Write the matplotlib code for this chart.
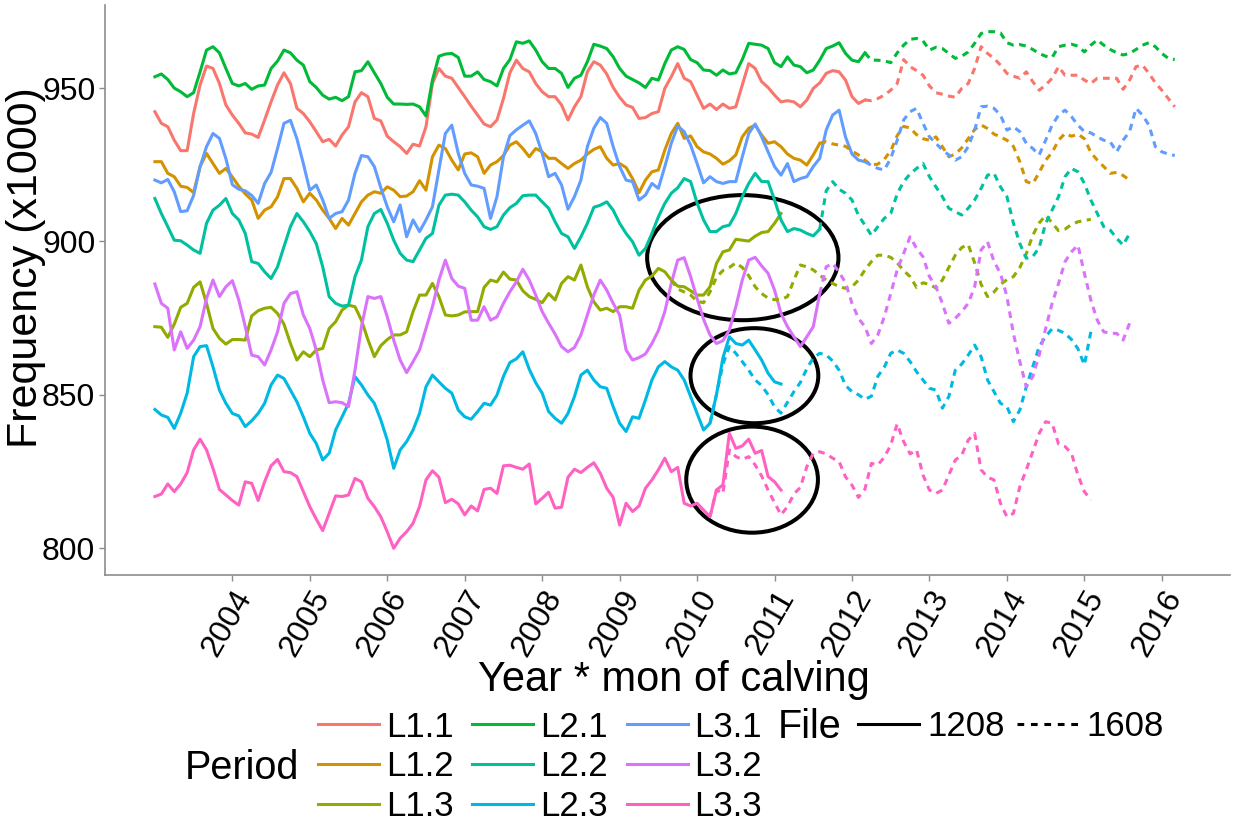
import matplotlib.pyplot as plt
from matplotlib.lines import Line2D
from matplotlib.patches import Ellipse
import numpy as np

plt.rcParams["font.family"] = ["Liberation Sans", "DejaVu Sans"]

# monthly frequencies (x1000), file 1208 starts Jan 2003
l11_1208 = [
    942.3, 938.5, 937.4, 933.0, 929.6, 929.6, 941.7, 951.0, 957.2, 956.4,
    951.5, 944.5, 941.2, 938.5, 935.4, 935.0, 933.9, 939.6, 945.5, 951.0,
    955.0, 951.5, 943.4, 941.7, 939.0, 935.8, 932.5, 933.3, 931.1, 934.7,
    937.4, 945.5, 948.5, 947.2, 940.1, 939.3, 934.3, 932.5, 930.9, 928.7,
    931.7, 931.1, 937.4, 951.5, 956.4, 953.9, 953.2, 950.2, 947.2, 944.1,
    941.2, 938.3, 937.4, 939.6, 946.6, 955.0, 959.1, 956.4, 955.3, 951.5,
    948.8, 947.2, 947.2, 944.5, 939.6, 943.9, 947.2, 955.3, 958.6, 957.5,
    954.6, 950.2, 947.0, 944.5, 943.7, 940.1, 940.4, 941.7, 942.3, 949.9,
    953.7, 958.0, 953.2, 952.1, 947.7, 943.4, 944.8, 943.0, 944.8, 943.4,
    943.9, 951.0, 958.0, 956.4, 952.1, 950.2, 947.7, 945.5, 945.9, 945.5,
    943.9, 946.1, 949.9, 951.7, 954.8, 955.7, 955.3, 952.6, 947.2, 945.0,
    946.1,
]
l12_1208 = [
    926.0, 926.0, 922.2, 921.1, 918.0, 917.6, 915.9, 924.4, 928.7, 925.4,
    922.2, 923.8, 921.0, 918.0, 915.5, 913.5, 907.5, 910.2, 911.3, 914.5,
    920.5, 920.5, 917.3, 912.9, 915.7, 913.5, 910.2, 907.5, 904.2, 907.5,
    905.3, 909.1, 912.9, 915.1, 916.2, 915.7, 917.8, 916.7, 914.6, 914.8,
    916.2, 919.8, 916.7, 927.6, 931.4, 930.3, 926.5, 923.3, 928.5, 928.9,
    927.6, 922.2, 924.9, 926.0, 928.0, 931.4, 932.5, 930.3, 927.6, 930.3,
    929.2, 927.1, 927.1, 925.4, 923.8, 925.4, 926.5, 928.5, 930.0, 930.9,
    927.1, 924.9, 925.4, 924.1, 920.5, 915.9, 920.0, 922.7, 923.3, 929.8,
    935.2, 938.5, 933.6, 934.4, 930.9, 929.2, 928.5, 927.1, 925.2, 926.3,
    928.2, 934.1, 936.9, 937.9, 934.7, 932.0, 932.5, 930.9, 928.5, 927.1,
    926.5, 924.9, 928.2, 932.0,
]
l13_1208 = [
    872.2, 872.0, 868.7, 873.0, 878.5, 879.8, 885.0, 886.8, 879.8, 871.6,
    868.4, 866.5, 868.0, 868.0, 867.8, 875.7, 877.4, 878.2, 878.5, 876.5,
    873.0, 866.7, 861.3, 864.0, 862.4, 864.6, 865.1, 871.6, 873.8, 877.6,
    879.2, 878.7, 874.3, 868.0, 862.4, 866.0, 868.0, 869.5, 869.5, 870.5,
    877.1, 882.5, 882.5, 886.3, 882.0, 876.0, 875.7, 876.0, 877.0, 877.1,
    877.1, 885.0, 887.4, 886.8, 890.0, 887.7, 887.4, 883.9, 882.0, 881.1,
    880.0, 883.0, 880.9, 886.3, 888.5, 887.4, 892.3, 885.2, 880.3, 877.6,
    878.2, 877.1, 878.7, 878.7, 878.2, 884.1, 887.4, 888.7, 891.2, 890.1,
    887.4, 885.4, 885.2, 883.9, 882.5, 882.5, 885.2, 892.8, 896.6, 897.2,
    900.7, 900.4, 900.1, 901.7, 902.9, 903.2, 905.9, 909.1,
]
l21_1208 = [
    953.7, 954.6, 952.8, 950.0, 948.8, 947.2, 948.5, 955.3, 962.4, 963.5,
    961.5, 956.4, 951.5, 950.7, 951.5, 949.6, 950.7, 951.0, 956.4, 958.8,
    962.4, 961.5, 959.1, 957.5, 952.1, 950.2, 947.7, 946.4, 947.0, 945.9,
    947.2, 955.3, 955.7, 958.6, 955.0, 951.5, 947.0, 944.8, 944.8, 944.7,
    944.8, 943.9, 940.9, 952.6, 960.4, 961.1, 961.3, 960.0, 953.9, 953.9,
    955.3, 952.8, 952.1, 950.7, 956.4, 959.3, 965.1, 964.6, 965.4, 962.4,
    958.6, 956.4, 956.4, 954.8, 950.2, 953.2, 954.2, 958.6, 964.3, 963.7,
    962.9, 960.2, 956.4, 953.9, 952.8, 951.7, 950.2, 953.2, 952.6, 958.0,
    962.4, 963.5, 962.6, 959.3, 958.3, 955.9, 955.7, 954.2, 955.9, 954.6,
    955.0, 959.3, 964.6, 964.3, 964.0, 962.9, 958.3, 957.0, 960.2, 957.5,
    957.0, 955.0, 955.9, 959.1, 962.9, 963.7, 964.8, 961.3, 959.1, 958.6,
    961.5,
]
l22_1208 = [
    914.0, 909.1, 904.8, 900.4, 900.2, 898.8, 897.2, 896.1, 905.9, 910.2,
    911.8, 914.0, 909.1, 907.0, 902.6, 893.4, 892.8, 890.1, 887.9, 891.7,
    898.3, 904.8, 909.1, 906.4, 903.2, 899.3, 891.7, 882.0, 879.8, 878.9,
    879.2, 888.5, 893.9, 904.8, 909.1, 910.4, 905.9, 900.4, 896.1, 893.9,
    893.4, 897.2, 901.0, 902.6, 911.8, 915.1, 915.4, 915.1, 912.9, 910.2,
    908.0, 904.8, 903.9, 904.8, 908.6, 911.0, 912.4, 914.9, 915.1, 915.1,
    912.9, 910.8, 906.4, 902.6, 901.5, 897.7, 901.5, 905.9, 911.1, 911.8,
    912.9, 910.2, 905.9, 902.6, 899.9, 895.5, 897.7, 902.6, 908.0, 912.4,
    915.7, 917.5, 920.5, 919.5, 912.5, 907.0, 903.2, 903.2, 904.8, 905.3,
    909.1, 914.6, 918.9, 922.2, 919.5, 919.5, 913.5, 907.0, 903.2, 904.2,
    903.7, 902.6, 901.8, 904.0,
]
l23_1208 = [
    845.2, 843.4, 842.6, 839.0, 844.0, 850.5, 862.4, 865.7, 866.0, 859.1,
    851.5, 847.2, 843.9, 843.1, 839.6, 841.5, 843.9, 847.2, 853.2, 856.4,
    855.3, 851.5, 847.7, 842.8, 837.4, 834.1, 828.7, 830.9, 838.5, 842.8,
    847.2, 855.9, 853.2, 849.9, 847.2, 841.8, 835.2, 826.0, 832.0, 834.7,
    838.5, 843.9, 852.6, 856.4, 854.2, 852.1, 850.5, 845.0, 842.8, 842.0,
    844.5, 847.2, 846.6, 849.9, 856.0, 860.5, 861.7, 864.0, 858.3, 853.9,
    850.5, 844.5, 842.3, 840.7, 843.9, 849.4, 856.4, 858.0, 854.8, 852.6,
    852.1, 846.1, 840.7, 838.0, 842.8, 842.3, 848.3, 854.8, 859.1, 860.8,
    859.1, 858.0, 854.8, 849.4, 843.9, 838.5, 840.7, 850.0, 862.0, 868.9,
    866.7, 866.2, 867.8, 864.6, 861.3, 857.0, 854.2, 853.5,
]
l31_1208 = [
    920.0, 919.1, 920.2, 916.2, 909.7, 910.0, 915.0, 924.4, 930.9, 935.2,
    933.6, 927.0, 918.5, 917.0, 916.5, 915.0, 912.4, 918.9, 922.5, 930.3,
    938.5, 939.5, 933.5, 925.4, 916.7, 918.4, 913.5, 907.5, 909.1, 909.7,
    913.5, 922.2, 928.0, 927.6, 924.4, 917.5, 911.3, 906.4, 911.9, 901.5,
    907.0, 903.2, 907.0, 911.3, 923.3, 935.2, 937.9, 928.7, 922.2, 918.4,
    918.0, 917.3, 907.5, 914.6, 927.6, 934.5, 936.4, 937.9, 939.3, 935.2,
    928.7, 921.1, 922.2, 918.4, 910.5, 914.6, 920.0, 930.9, 936.9, 940.4,
    938.5, 930.9, 924.4, 920.0, 919.5, 913.5, 915.1, 918.9, 917.3, 924.4,
    932.0, 937.6, 935.8, 931.4, 925.4, 919.1, 921.1, 919.5, 918.9, 919.5,
    919.5, 927.6, 935.2, 938.3, 934.1, 929.2, 924.4, 921.6, 925.4, 919.5,
    920.5, 921.1, 924.4, 927.1, 936.3, 941.2, 942.8, 934.0, 928.5, 926.5,
    926.0,
]
l32_1208 = [
    886.1, 879.8, 878.2, 864.6, 870.5, 865.1, 867.8, 872.2, 881.4, 887.4,
    882.0, 885.2, 887.2, 880.9, 872.2, 862.9, 862.4, 859.7, 864.6, 870.5,
    879.8, 883.0, 883.6, 876.0, 871.6, 864.6, 854.8, 847.4, 847.7, 847.4,
    846.1, 858.0, 872.2, 882.0, 881.4, 882.0, 875.4, 867.8, 861.3, 857.2,
    860.8, 864.6, 871.6, 878.7, 887.4, 893.9, 887.9, 885.4, 884.7, 874.3,
    874.3, 878.7, 874.3, 875.4, 879.8, 883.6, 886.8, 890.9, 887.4, 882.5,
    877.1, 873.3, 869.8, 865.7, 864.0, 865.4, 869.5, 876.0, 882.5, 887.4,
    884.1, 879.8, 876.0, 864.6, 861.3, 862.1, 863.3, 866.7, 870.9, 877.1,
    886.3, 893.9, 894.7, 888.5, 881.4, 874.6, 869.5, 866.7, 867.6, 871.1,
    878.7, 887.4, 893.9, 894.8, 892.0, 889.6, 884.1, 876.5, 872.2, 868.9,
    865.7, 868.9, 872.2, 883.0,
]
l33_1208 = [
    816.8, 817.6, 820.9, 818.4, 820.9, 824.6, 832.0, 835.5, 832.0, 826.0,
    819.1, 817.3, 815.5, 814.0, 821.6, 821.1, 815.5, 821.6, 826.8, 828.9,
    824.9, 824.6, 823.3, 818.4, 813.5, 809.4, 805.7, 811.3, 817.0, 816.8,
    817.3, 822.7, 821.6, 816.2, 813.5, 810.2, 805.3, 799.9, 803.2, 805.3,
    808.1, 813.5, 822.2, 825.2, 823.1, 814.8, 815.9, 814.4, 810.8, 813.7,
    812.1, 819.1, 819.5, 817.8, 826.8, 827.0, 826.3, 825.7, 827.4, 814.4,
    816.2, 818.2, 813.0, 813.3, 823.1, 825.7, 824.6, 826.3, 827.8, 824.4,
    819.5, 816.5, 807.5, 814.6, 811.9, 813.7, 819.5, 822.2, 825.5, 829.3,
    824.9, 826.3, 814.6, 813.7, 814.6, 812.4, 810.2, 818.9, 820.6, 837.4,
    832.5, 833.3, 835.5, 830.9, 831.8, 823.3, 821.6, 818.9,
]

# file 1608: only the part that is not hidden under 1208
l11_1608 = [
    946.1, 945.9, 946.6, 947.7, 949.3, 951.5, 959.3, 957.0, 955.7, 954.2,
    950.7, 948.5, 948.0, 947.4, 947.0, 949.9, 951.5, 956.4, 963.5, 961.3,
    959.7, 957.5, 954.8, 953.9, 953.2, 955.3, 952.1, 949.3, 951.0, 953.2,
    957.0, 954.2, 954.2, 954.2, 952.6, 951.5, 953.2, 953.2, 953.2, 953.2,
    949.6, 952.6, 957.0, 957.5, 954.8, 951.7, 949.3, 946.6, 943.9,
]
l12_1608 = [
    932.0, 932.5, 931.8, 931.4, 931.0, 929.5, 928.2,
    926.5, 924.9, 925.2, 926.8, 929.5, 934.5, 937.5, 937.0, 934.8, 933.5,
    933.0, 934.1, 930.9, 927.6, 928.5, 930.5, 933.5, 936.5, 938.0, 936.8,
    935.0, 934.1, 933.0, 931.0, 926.0, 919.5, 918.8, 922.5, 926.5, 929.0,
    933.0, 935.2, 934.3, 935.0, 933.5, 929.0, 926.5, 924.4, 922.2, 922.5,
    921.5, 920.0,
]
l13_1608 = [
    887.4, 884.5, 883.5, 882.5, 880.5, 880.0, 883.5, 888.3, 890.5, 891.5,
    893.0, 891.5, 888.8, 885.2, 883.0, 881.5, 881.0, 881.0, 882.0, 887.4,
    892.3, 891.7, 890.7, 889.0, 887.4, 886.3, 885.2, 884.7, 885.2, 887.4,
    890.7, 893.4, 895.5, 895.5, 894.8, 893.0, 890.5, 888.5, 885.0, 886.5,
    886.0, 884.8, 887.4, 891.5, 895.5, 898.0, 899.0, 893.0, 886.0, 882.0,
    883.5, 886.0, 887.5, 888.5, 891.5, 896.0, 902.0, 906.0, 908.5, 906.0,
    903.5, 904.0, 905.5, 906.4, 906.8, 907.2,
]
l21_1608 = [
    961.5, 959.1, 959.1, 958.9, 958.3, 961.5, 964.0, 965.9, 966.2, 965.4,
    962.4, 963.3, 962.9, 961.3, 959.7, 960.4, 961.8, 964.6, 967.8, 968.4,
    968.4, 968.0, 964.8, 964.0, 964.2, 963.7, 962.6, 961.3, 960.4, 960.0,
    963.5, 964.0, 964.3, 963.7, 961.8, 964.0, 965.7, 964.0, 962.6, 961.5,
    960.8, 961.3, 962.6, 964.0, 964.8, 963.5, 961.3, 959.7, 959.3,
]
l22_1608 = [
    904.0, 916.5, 919.5, 917.0, 915.7, 913.5, 908.5,
    905.3, 902.0, 904.8, 907.5, 909.1, 915.5, 919.5, 922.0, 923.8, 925.4,
    921.1, 917.8, 914.6, 910.8, 909.7, 908.6, 910.8, 913.5, 917.3, 921.6,
    922.2, 917.8, 914.6, 906.0, 899.3, 894.5, 895.0, 898.0, 905.9, 910.2,
    914.6, 921.1, 923.8, 922.7, 918.9, 913.5, 909.1, 904.8, 903.7, 901.0,
    898.8, 902.6,
]
l23_1608 = [
    840.7, 850.0, 860.0, 865.7,
    863.5, 860.8, 858.0, 854.8, 853.0, 850.0, 846.0, 844.0, 847.5, 851.0,
    854.0, 858.5, 862.0, 863.5, 863.0, 861.0, 858.0, 853.0, 851.0, 850.0,
    848.5, 849.5, 856.0, 859.0, 863.5, 864.6, 863.5, 860.8, 857.5, 854.8,
    852.1, 851.5, 845.6, 849.4, 858.0, 860.0, 862.9, 866.2, 862.4, 854.8,
    851.0, 847.2, 846.1, 841.2, 845.0, 852.6, 859.1, 865.7, 869.0, 871.5,
    871.0, 870.0, 868.0, 865.0, 859.7, 870.5,
]
l31_1608 = [
    926.0, 924.8, 923.8, 923.3, 927.1, 933.0, 939.6, 942.3, 943.4, 938.5,
    934.1, 932.0, 929.8, 928.2, 926.5, 927.6, 930.9, 936.3, 943.9, 944.1,
    943.4, 941.2, 936.3, 937.4, 935.8, 932.0, 930.3, 928.2, 933.0, 937.9,
    941.2, 942.8, 940.7, 937.9, 935.8, 935.4, 934.1, 933.0, 932.5, 929.2,
    933.0, 935.8, 943.4, 941.2, 937.9, 930.9, 929.2, 928.5, 928.0,
]
l32_1608 = [
    883.0, 891.7, 892.8, 890.0, 886.5, 879.8, 874.9,
    872.2, 866.7, 869.5, 875.4, 883.0, 890.7, 896.1, 901.5, 897.7, 895.0,
    888.5, 885.2, 879.8, 873.3, 874.9, 877.1, 879.8, 885.2, 897.2, 899.9,
    893.4, 889.6, 882.0, 870.0, 860.8, 852.6, 855.9, 862.9, 871.6, 879.8,
    886.3, 893.4, 896.6, 898.8, 889.6, 880.9, 874.3, 870.5, 870.0, 870.0,
    867.8, 873.3,
]
l33_1608 = [
    810.2, 818.9, 817.8, 832.0,
    829.8, 828.9, 829.8, 827.1, 823.5, 818.9, 814.8, 810.8, 813.5, 817.6,
    819.8, 826.5, 830.9, 831.4, 830.7, 829.3, 828.2, 823.2, 820.5, 816.5,
    819.2, 827.6, 827.1, 829.6, 833.6, 840.5, 834.7, 830.7, 832.0, 823.8,
    818.9, 817.8, 818.9, 823.8, 828.7, 830.3, 835.2, 837.4, 825.5, 823.1,
    822.2, 814.6, 810.2, 811.3, 820.0, 825.5, 831.4, 837.4, 841.2, 840.7,
    833.9, 833.1, 830.9, 823.8, 818.4, 815.7,
]

periods = ["L1.1", "L1.2", "L1.3", "L2.1", "L2.2", "L2.3", "L3.1", "L3.2", "L3.3"]
colors = ["#F8766D", "#D39200", "#93AA00", "#00BA38", "#00C19F",
          "#00B9E3", "#619CFF", "#DB72FB", "#FF61C3"]
series_1208 = [l11_1208, l12_1208, l13_1208, l21_1208, l22_1208,
               l23_1208, l31_1208, l32_1208, l33_1208]
series_1608 = [l11_1608, l12_1608, l13_1608, l21_1608, l22_1608,
               l23_1608, l31_1608, l32_1608, l33_1608]
start_1208 = "2003-01"
start_1608 = ["2012-03", "2011-08", "2009-09", "2012-03", "2011-08",
              "2010-03", "2012-03", "2011-08", "2010-03"]


def month_axis(start, n):
    year, mon = (int(p) for p in start.split("-"))
    return year + (mon - 1) / 12 + np.arange(n) / 12


LW = 2.2
DASH = (0, (2.2, 1.8))

fig = plt.figure(figsize=(12.45, 8.25), dpi=100)
ax = fig.add_axes([105 / 1245, 1 - 575 / 825, 1125 / 1245, 570 / 825])

for vals, col in zip(series_1208, colors):
    ax.plot(month_axis(start_1208, len(vals)), vals, color=col, lw=LW,
            solid_joinstyle="round")
for vals, start, col in zip(series_1608, start_1608, colors):
    ax.plot(month_axis(start, len(vals)), vals, color=col, lw=LW,
            linestyle=DASH)

# rings around the diverging period-3 curves
for cx, cy, w, h in [(2010.59, 894.7, 2.47, 40.8),
                     (2010.74, 856.2, 1.65, 31.0),
                     (2010.71, 822.3, 1.70, 34.6)]:
    ax.add_patch(Ellipse((cx, cy), w, h, fill=False, ec="black", lw=2.9))

ax.set_xlim(2002.356, 2016.88)
ax.set_ylim(791.2, 977.1)
ax.set_xticks(range(2004, 2017))
ax.set_xticklabels([str(y) for y in range(2004, 2017)], rotation=60,
                   ha="right", va="top", rotation_mode="anchor")
ax.set_yticks([800, 850, 900, 950])
ax.tick_params(labelsize=23, length=4, width=1, color="#8c8c8c",
               labelcolor="black", pad=3)
for side in ("top", "right"):
    ax.spines[side].set_visible(False)
for side in ("left", "bottom"):
    ax.spines[side].set_color("#8c8c8c")
    ax.spines[side].set_linewidth(1.2)

ax.set_ylabel("Frequency (x1000)", fontsize=31)
ax.yaxis.set_label_coords(-0.052, 0.54)
fig.text(674 / 1245, 1 - 680 / 825, "Year * mon of calving", fontsize=30,
         ha="center", va="center")

# legends
period_handles = [Line2D([], [], color=c, lw=LW) for c in colors]
fig.legend(period_handles, periods, ncol=3, loc="center left",
           bbox_to_anchor=(318 / 1245, 1 - 767 / 825), frameon=False,
           fontsize=25, handlelength=1.75, handletextpad=0.2,
           columnspacing=0.55, labelspacing=0.2, borderpad=0,
           borderaxespad=0)
fig.text(185 / 1245, 1 - 768 / 825, "Period", fontsize=28.5, va="center")

file_handles = [Line2D([], [], color="black", lw=LW),
                Line2D([], [], color="black", lw=LW, linestyle=(0, (2.2, 2.2)))]
fig.legend(file_handles, ["1208", "1608"], ncol=2, loc="center left",
           bbox_to_anchor=(858 / 1245, 1 - 727 / 825), frameon=False,
           fontsize=25, handlelength=1.75, handletextpad=0.25,
           columnspacing=0.35, borderpad=0, borderaxespad=0)
fig.text(778 / 1245, 1 - 727 / 825, "File", fontsize=28.5, va="center")

fig.savefig("out.png", dpi=100)
